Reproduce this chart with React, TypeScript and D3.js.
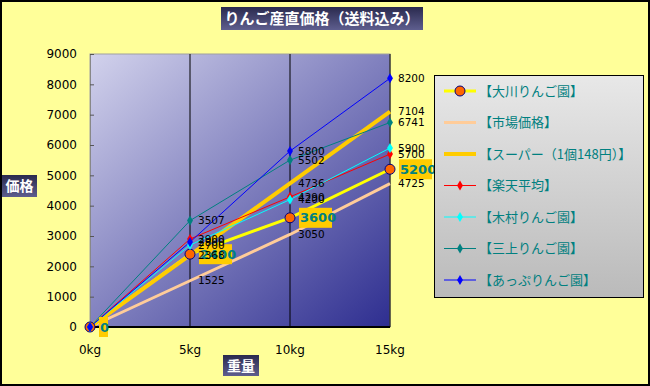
import React, { useEffect, useRef } from 'react';
import * as d3 from 'd3';

// weights (kg) and prices (yen)
const weights = [0, 5, 10, 15];
const xTickLabels = ['0kg', '5kg', '10kg', '15kg'];
const yTicks = [0, 1000, 2000, 3000, 4000, 5000, 6000, 7000, 8000, 9000];

const seriesNames = [
  '【大川りんご園】',
  '【市場価格】',
  '【スーパー（1個148円）】',
  '【楽天平均】',
  '【木村りんご園】',
  '【三上りんご園】',
  '【あっぷりんご園】',
];
const okawa = [0, 2400, 3600, 5200];
const market = [0, 1525, 3050, 4725];
const supermarket = [0, 2368, 4736, 7104];
const rakuten = [0, 2900, 4290, 5700];
const kimura = [0, 2700, 4200, 5900];
const mikami = [0, 3507, 5502, 6741];
const appuri = [0, 2800, 5800, 8200];

const W = 650;
const H = 386;
const FONT = '"Noto Sans CJK JP", "DejaVu Sans", sans-serif';
const NUM_FONT = '"DejaVu Sans", sans-serif';

type Style = { color: string; width: number; marker: 'circle' | 'diamond' | 'none' };
const styles: Style[] = [
  { color: '#FFFF00', width: 3, marker: 'circle' },
  { color: '#FFCC99', width: 3, marker: 'none' },
  { color: '#FFCC00', width: 4, marker: 'none' },
  { color: '#FF0000', width: 1, marker: 'diamond' },
  { color: '#00FFFF', width: 1, marker: 'diamond' },
  { color: '#008080', width: 1, marker: 'diamond' },
  { color: '#0000FF', width: 1, marker: 'diamond' },
];

export default function App() {
  const ref = useRef<SVGSVGElement>(null);

  useEffect(() => {
    if (!ref.current) return;
    const svg = d3.select(ref.current);
    svg.selectAll('*').remove();

    const allSeries = [okawa, market, supermarket, rakuten, kimura, mikami, appuri];
    const plot = { left: 90, right: 390, top: 54, bottom: 327 };

    const x = d3.scaleLinear().domain([0, 15]).range([plot.left, plot.right]);
    const y = d3.scaleLinear().domain([0, 9000]).range([plot.bottom, plot.top]);

    const defs = svg.append('defs');
    const pg = defs.append('linearGradient').attr('id', 'plotGrad')
      .attr('x1', '0').attr('y1', '0').attr('x2', '1').attr('y2', '1');
    pg.append('stop').attr('offset', '0%').attr('stop-color', '#D2D2EC');
    pg.append('stop').attr('offset', '100%').attr('stop-color', '#2E2E90');
    const tg = defs.append('linearGradient').attr('id', 'titleGrad')
      .attr('x1', '0').attr('y1', '0').attr('x2', '0').attr('y2', '1');
    tg.append('stop').attr('offset', '0%').attr('stop-color', '#2A2A4E');
    tg.append('stop').attr('offset', '100%').attr('stop-color', '#5E5E8E');
    const lg = defs.append('linearGradient').attr('id', 'legGrad')
      .attr('x1', '0').attr('y1', '0').attr('x2', '0').attr('y2', '1');
    lg.append('stop').attr('offset', '0%').attr('stop-color', '#E8E8E8');
    lg.append('stop').attr('offset', '100%').attr('stop-color', '#BABABA');

    // chart background
    svg.append('rect').attr('x', 1).attr('y', 1).attr('width', W - 2).attr('height', H - 2)
      .attr('fill', '#FFFF99').attr('stroke', '#000').attr('stroke-width', 2);

    // plot area
    svg.append('rect')
      .attr('x', plot.left).attr('y', plot.top)
      .attr('width', plot.right - plot.left).attr('height', plot.bottom - plot.top)
      .attr('fill', 'url(#plotGrad)').attr('stroke', '#A0A0A0').attr('stroke-width', 1);

    // vertical gridlines
    svg.append('g').selectAll('line').data(weights.slice(1)).enter().append('line')
      .attr('x1', d => x(d)).attr('x2', d => x(d))
      .attr('y1', plot.top).attr('y2', plot.bottom)
      .attr('stroke', '#000').attr('stroke-width', 1);

    // axes
    const yAxis = svg.append('g').attr('transform', `translate(${plot.left},0)`)
      .call(d3.axisRight(y).tickValues(yTicks).tickSize(4).tickFormat(() => ''));
    yAxis.select('.domain').attr('stroke', '#888');
    yAxis.selectAll('line').attr('stroke', '#555');

    svg.append('g').selectAll('text').data(yTicks).enter().append('text')
      .attr('x', 77).attr('y', d => y(d)).attr('dy', '0.35em')
      .attr('text-anchor', 'end').attr('font-family', NUM_FONT).attr('font-size', 12)
      .attr('fill', '#000').text(d => String(d));

    svg.append('line').attr('x1', plot.left).attr('x2', plot.right)
      .attr('y1', plot.bottom).attr('y2', plot.bottom)
      .attr('stroke', '#000').attr('stroke-width', 2);

    svg.append('g').selectAll('text').data(weights).enter().append('text')
      .attr('x', d => x(d)).attr('y', 350).attr('dy', '0.35em')
      .attr('text-anchor', 'middle').attr('font-family', NUM_FONT).attr('font-size', 12)
      .attr('fill', '#000').text((d, i) => xTickLabels[i]);

    // lines
    const line = d3.line<number>().x((d, i) => x(weights[i])).y(d => y(d));
    allSeries.forEach((s, i) => {
      svg.append('path').datum(s).attr('d', line)
        .attr('fill', 'none').attr('stroke', styles[i].color)
        .attr('stroke-width', styles[i].width);
    });

    // markers
    allSeries.forEach((s, i) => {
      const st = styles[i];
      if (st.marker === 'none') return;
      const g = svg.append('g');
      s.forEach((v, j) => {
        const px = x(weights[j]);
        const py = y(v);
        if (st.marker === 'circle') {
          g.append('circle').attr('cx', px).attr('cy', py).attr('r', 5)
            .attr('fill', '#FF6600').attr('stroke', '#000080').attr('stroke-width', 1);
        } else {
          g.append('path').attr('d', d3.symbol(d3.symbolDiamond, 30)())
            .attr('transform', `translate(${px},${py})`).attr('fill', st.color);
        }
      });
    });

    // Okawa labels with boxes
    const ol = svg.append('g');
    okawa.forEach((v, j) => {
      const px = x(weights[j]) + 9;
      const py = y(v);
      const label = String(v);
      const w = label.length * 8 + 1;
      ol.append('rect').attr('x', px).attr('y', py - 10).attr('width', w).attr('height', 20)
        .attr('fill', '#FFCC00');
      ol.append('text').attr('x', px + 1).attr('y', py).attr('dy', '0.36em')
        .attr('font-family', NUM_FONT).attr('font-size', 13)
        .attr('font-weight', 'bold').attr('fill', '#008080').text(label);
    });

    // data labels of other series (black)
    allSeries.forEach((s, i) => {
      if (i === 0) return;
      svg.append('g').selectAll('text').data(s.slice(1)).enter().append('text')
        .attr('x', (d, j) => x(weights[j + 1]) + 8).attr('y', d => y(d)).attr('dy', '0.35em')
        .attr('font-family', NUM_FONT).attr('font-size', 10.5)
        .attr('fill', '#000').text(d => String(d));
    });

    // title
    svg.append('rect').attr('x', 221).attr('y', 7).attr('width', 202).attr('height', 23)
      .attr('fill', 'url(#titleGrad)');
    svg.append('text').attr('x', 322).attr('y', 19).attr('dy', '0.36em')
      .attr('text-anchor', 'middle').attr('font-family', FONT).attr('font-size', 15)
      .attr('font-weight', 'bold').attr('fill', '#fff').text('りんご産直価格（送料込み）');

    // axis titles
    svg.append('rect').attr('x', 2).attr('y', 175).attr('width', 35).attr('height', 22)
      .attr('fill', 'url(#titleGrad)');
    svg.append('text').attr('x', 19.5).attr('y', 186).attr('dy', '0.36em')
      .attr('text-anchor', 'middle').attr('font-family', FONT).attr('font-size', 14)
      .attr('font-weight', 'bold').attr('fill', '#fff').text('価格');
    svg.append('rect').attr('x', 223).attr('y', 355).attr('width', 36).attr('height', 21)
      .attr('fill', 'url(#titleGrad)');
    svg.append('text').attr('x', 241).attr('y', 365.5).attr('dy', '0.36em')
      .attr('text-anchor', 'middle').attr('font-family', FONT).attr('font-size', 14)
      .attr('font-weight', 'bold').attr('fill', '#fff').text('重量');

    // legend
    const leg = svg.append('g');
    leg.append('rect').attr('x', 434.5).attr('y', 75.5).attr('width', 209).attr('height', 222)
      .attr('fill', 'url(#legGrad)').attr('stroke', '#000').attr('stroke-width', 1);
    const ly = d3.scalePoint<number>().domain(d3.range(seriesNames.length)).range([91, 280]);
    seriesNames.forEach((name, i) => {
      const st = styles[i];
      const cy = ly(i) as number;
      leg.append('line').attr('x1', 444).attr('x2', 476).attr('y1', cy).attr('y2', cy)
        .attr('stroke', st.color).attr('stroke-width', st.marker === 'diamond' ? 1 : st.width);
      if (st.marker === 'circle') {
        leg.append('circle').attr('cx', 460).attr('cy', cy).attr('r', 5)
          .attr('fill', '#FF6600').attr('stroke', '#000080');
      } else if (st.marker === 'diamond') {
        leg.append('path').attr('d', d3.symbol(d3.symbolDiamond, 30)())
          .attr('transform', `translate(460,${cy})`).attr('fill', st.color);
      }
      leg.append('text').attr('x', 479).attr('y', cy).attr('dy', '0.36em')
        .attr('font-family', FONT).attr('font-size', 13).attr('fill', '#008080').text(name);
    });
  }, []);

  return (
    <svg ref={ref} width={W} height={H}
      style={{ position: 'absolute', left: 0, top: 0, display: 'block' }} />
  );
}
